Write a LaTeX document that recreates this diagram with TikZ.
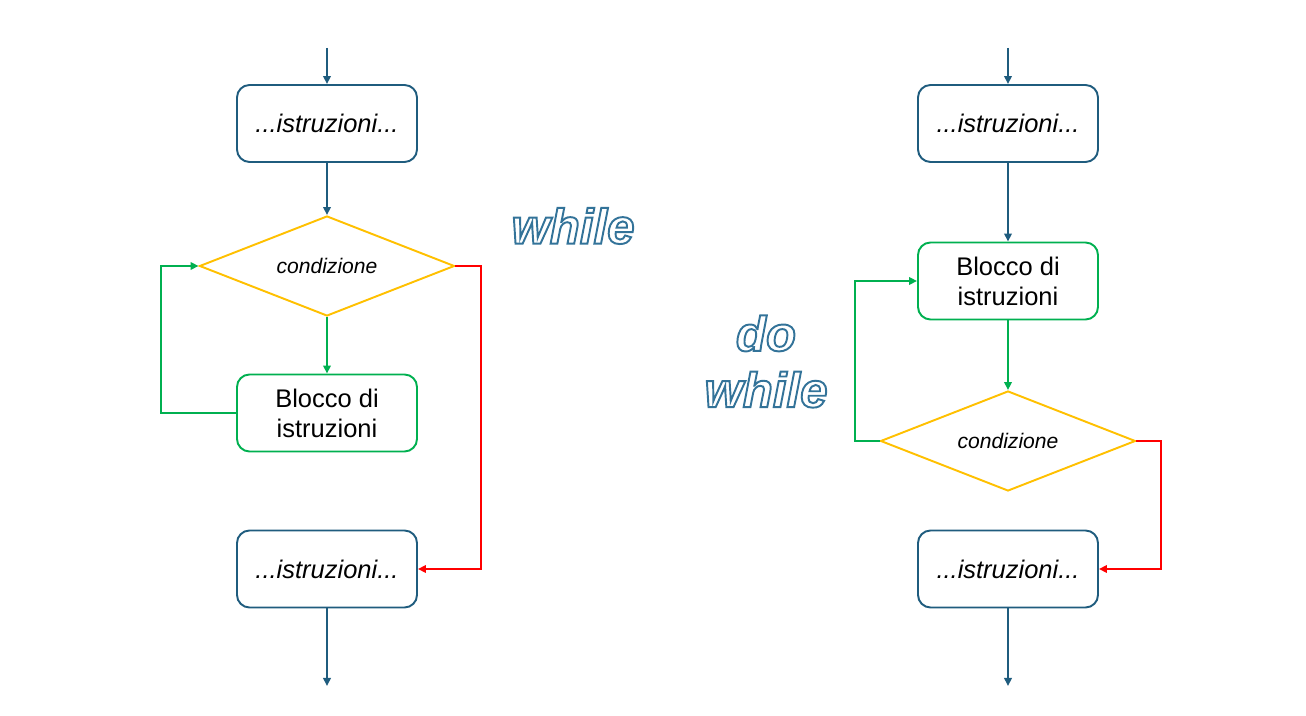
\documentclass[tikz,border=0pt]{standalone}
\usepackage{fontspec}
\setmainfont{Liberation Sans}
\usetikzlibrary{calc,arrows.meta,shapes.geometric}
\definecolor{navy}{HTML}{1F5C7E}
\definecolor{leaf}{HTML}{00B050}
\definecolor{amber}{HTML}{FFC000}
\definecolor{alarm}{HTML}{FF0000}
\tikzset{stp/.style={rectangle,rounded corners=0.25cm,draw=navy,line width=1.1pt,fill=white,minimum width=3.6cm,minimum height=1.54cm,font=\fontsize{14.5}{17}\selectfont\itshape},
blk/.style={stp,draw=leaf,align=center,font=\fontsize{14.5}{17}\selectfont},
cnd/.style={diamond,aspect=2.55,draw=amber,line width=1.1pt,fill=white,minimum width=5.1cm,minimum height=2cm,inner sep=0pt,font=\fontsize{12}{14}\selectfont\itshape},
lnk/.style={line width=1.15pt,-{Triangle[length=1.6mm,width=1.5mm]}},
word/.style={font=\fontsize{28}{32}\selectfont\bfseries\itshape,align=center,text=white}}
% hollow letters: white fill, blue stroke
\newcommand{\hollow}[1]{\special{pdf:literal direct q 2 Tr 1.1 w 0.20 0.45 0.60 RG}#1\special{pdf:literal direct Q}}

\begin{document}
\begin{tikzpicture}
\useasboundingbox (0,0) rectangle (26.12,14.32);
% while
\coordinate (lin) at (6.54,13.36);
\node[stp] (l1) at (6.54,11.85) {...istruzioni...};
\node[cnd] (lc) at (6.54,9) {condizione};
\node[blk] (lb) at (6.54,6.06) {Blocco di\\istruzioni};
\node[stp] (l3) at (6.54,2.94) {...istruzioni...};
\coordinate (lout) at (6.54,0.6);
\draw[lnk,navy] (lin) -- (l1);
\draw[lnk,navy] (l1) -- (lc);
\draw[lnk,leaf] (lc) -- (lb);
\draw[lnk,leaf] (lb.west) -- ++(-1.5,0) |- (lc.west);
\draw[lnk,alarm] (lc.east) -- ++(0.52,0) |- (l3.east);
\draw[lnk,navy] (l3) -- (lout);
% do while
\coordinate (rin) at (20.16,13.36);
\node[stp] (r1) at (20.16,11.85) {...istruzioni...};
\node[blk] (rb) at (20.16,8.7) {Blocco di\\istruzioni};
\node[cnd] (rc) at (20.16,5.5) {condizione};
\node[stp] (r3) at (20.16,2.94) {...istruzioni...};
\coordinate (rout) at (20.16,0.6);
\draw[lnk,navy] (rin) -- (r1);
\draw[lnk,navy] (r1) -- (rb);
\draw[lnk,leaf] (rb) -- (rc);
\draw[lnk,leaf] (rc.west) -- ++(-0.5,0) |- (rb.west);
\draw[lnk,alarm] (rc.east) -- ++(0.5,0) |- (r3.east);
\draw[lnk,navy] (r3) -- (rout);
% titles
\node[word] (t1) at (11.46,9.8) {\hollow{while}};
\node[word] (t2) at (15.32,7.09) {\hollow{do}\\\hollow{while}};
\end{tikzpicture}
\end{document}
